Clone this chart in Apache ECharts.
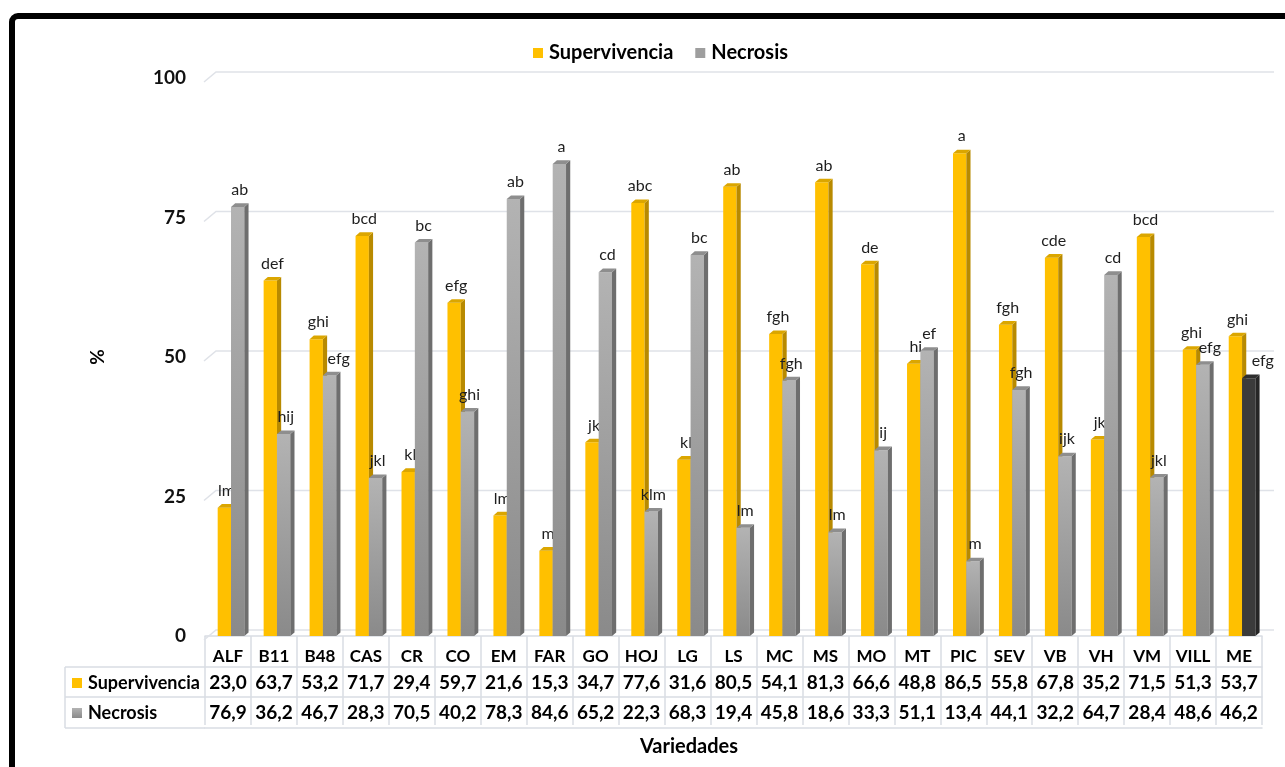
<!DOCTYPE html>
<html>
<head>
<meta charset="utf-8">
<script src="https://cdn.jsdelivr.net/npm/echarts@6/dist/echarts.min.js"></script>
<style>
  html, body { margin: 0; padding: 0; background: #fff; }
  #chart { width: 1285px; height: 767px; }
</style>
</head>
<body>
<div id="chart"></div>
<script>
// Varieties and their survival / necrosis percentages
const categories = ['ALF', 'B11', 'B48', 'CAS', 'CR', 'CO', 'EM', 'FAR', 'GO', 'HOJ', 'LG', 'LS',
  'MC', 'MS', 'MO', 'MT', 'PIC', 'SEV', 'VB', 'VH', 'VM', 'VILL', 'ME'];
const supervivencia = [23.0, 63.7, 53.2, 71.7, 29.4, 59.7, 21.6, 15.3, 34.7, 77.6, 31.6, 80.5,
  54.1, 81.3, 66.6, 48.8, 86.5, 55.8, 67.8, 35.2, 71.5, 51.3, 53.7];
const necrosis = [76.9, 36.2, 46.7, 28.3, 70.5, 40.2, 78.3, 84.6, 65.2, 22.3, 68.3, 19.4,
  45.8, 18.6, 33.3, 51.1, 13.4, 44.1, 32.2, 64.7, 28.4, 48.6, 46.2];
// Significance groups (letters) shown above each bar
const letrasSup = ['lm', 'def', 'ghi', 'bcd', 'kl', 'efg', 'lm', 'm', 'jk', 'abc', 'kl', 'ab',
  'fgh', 'ab', 'de', 'hi', 'a', 'fgh', 'cde', 'jk', 'bcd', 'ghi', 'ghi'];
const letrasNec = ['ab', 'hij', 'efg', 'jkl', 'bc', 'ghi', 'ab', 'a', 'cd', 'klm', 'bc', 'lm',
  'fgh', 'lm', 'ij', 'ef', 'm', 'fgh', 'ijk', 'cd', 'jkl', 'efg', 'efg'];
const yTicks = [0, 25, 50, 75, 100];

// styling
const FONT = 'Lato, "Open Sans", sans-serif';
const TABLE_LINE = '#d9dde3';
const darkNecrosis = ['ME'];                 // necrosis bar drawn in dark grey
const letterNudge = { B48: 7, VILL: 5, ME: 12 }; // horizontal shift of necrosis letters
const DEPTH_X = 4.2, DEPTH_Y = 3.6;

const fmt = v => v.toFixed(1).replace('.', ',');

const palette = {
  sup: {
    front: '#ffc000', side: '#b88a00', top: '#dba600'
  },
  nec: {
    front: new echarts.graphic.LinearGradient(0, 0, 0, 1, [
      { offset: 0, color: '#b3b3b3' }, { offset: 1, color: '#8a8a8a' }]),
    side: '#6e6e6e', top: '#8e8e8e'
  },
  necDark: { front: '#3b3b3b', side: '#262626', top: '#2e2e2e' }
};

function makeBarRenderer(isNec) {
  return function (params, api) {
    const i = api.value(0);
    const v = api.value(1);
    const top = api.coord([i, v]);
    const base = api.coord([i, 0]);
    const bw = api.size([1, 0])[0];
    const w = bw * 0.29;
    const x0 = top[0] - 0.224 * bw + (isNec ? w : 0);
    const yt = top[1], yb = base[1];
    const cat = categories[i];
    const pal = isNec ? (darkNecrosis.includes(cat) ? palette.necDark : palette.nec) : palette.sup;
    const letter = isNec ? letrasNec[i] : letrasSup[i];
    const nudge = isNec ? (letterNudge[cat] || 0) : 0;
    return {
      type: 'group',
      children: [
        { type: 'rect', shape: { x: x0, y: yt, width: w, height: yb - yt }, style: { fill: pal.front } },
        { type: 'polygon', shape: { points: [[x0 + w, yt], [x0 + w + DEPTH_X, yt - DEPTH_Y], [x0 + w + DEPTH_X, yb - DEPTH_Y], [x0 + w, yb]] }, style: { fill: pal.side } },
        { type: 'polygon', shape: { points: [[x0, yt], [x0 + DEPTH_X, yt - DEPTH_Y], [x0 + w + DEPTH_X, yt - DEPTH_Y], [x0 + w, yt]] }, style: { fill: pal.top } },
        { type: 'text', style: { text: letter, x: x0 + w / 2 + DEPTH_X / 2 + nudge, y: yt - 17, align: 'center', verticalAlign: 'middle', fill: '#1e1e1e', font: '16px ' + FONT } }
      ]
    };
  };
}

// back-wall gridlines with the slanted floor/wall edge on the left
function gridRenderer(params, api) {
  const v = api.value(0);
  const y = api.coord([0, v])[1];
  const cs = params.coordSys;
  return {
    type: 'polyline',
    shape: { points: [[cs.x - 1, y + 4], [cs.x + 11, y - 6], [cs.x + cs.width + 12, y - 6]] },
    style: { stroke: '#dfe2e8', lineWidth: 1.5, fill: 'none' },
    silent: true
  };
}

const chart = echarts.init(document.getElementById('chart'));

const tableAxis = (data, offset, margin, extra) => Object.assign({
  type: 'category',
  data: data,
  position: 'bottom',
  offset: offset,
  gridIndex: 0,
  axisLine: { show: true, lineStyle: { color: TABLE_LINE, width: 1.5 } },
  axisTick: { show: false },
  axisLabel: { interval: 0, margin: margin, color: '#000', fontWeight: 'bold', fontSize: 19, fontFamily: FONT, lineHeight: 18 },
  splitLine: { show: false }
}, extra || {});

chart.setOption({
  animation: false,
  backgroundColor: '#fff',
  textStyle: { fontFamily: FONT },
  grid: { left: 205, right: 23, top: 78, bottom: 131, containLabel: false },
  legend: {
    left: 528, top: 38,
    itemWidth: 10, itemHeight: 10, itemGap: 22,
    icon: 'rect',
    textStyle: { fontSize: 20, fontWeight: 'bold', color: '#000', fontFamily: FONT, padding: [0, 0, 0, 1] },
    data: ['Supervivencia', 'Necrosis']
  },
  xAxis: [
    tableAxis(categories, 3, 9, {
      axisTick: { show: true, interval: 0, length: 89, lineStyle: { color: TABLE_LINE, width: 1.5 } },
      axisLabel: { interval: 0, margin: 9, color: '#000', fontWeight: 'bold', fontSize: 17, fontFamily: FONT, lineHeight: 18 }
    }),
    tableAxis(supervivencia.map(fmt), 31, 7),
    tableAxis(necrosis.map(fmt), 61, 7),
    tableAxis(categories, 92, 0, { axisLabel: { show: false } })
  ],
  yAxis: {
    type: 'value',
    min: 0, max: 100, interval: 25,
    name: '%',
    nameLocation: 'middle',
    nameGap: 98,
    nameRotate: 90,
    nameTextStyle: { fontSize: 19, fontWeight: 'bold', color: '#000', fontFamily: FONT },
    axisLine: { show: false },
    axisTick: { show: false },
    splitLine: { show: false },
    axisLabel: { margin: 19, fontSize: 19, fontWeight: 'bold', color: '#111', fontFamily: FONT, padding: [4, 0, 0, 0] }
  },
  series: [
    {
      name: 'grid', type: 'custom', renderItem: gridRenderer, silent: true, z: 1,
      data: yTicks.map(v => [v]), encode: { y: 0 }, legendHoverLink: false
    },
    {
      name: 'Supervivencia', type: 'custom', renderItem: makeBarRenderer(false), z: 3,
      itemStyle: { color: '#ffc000' },
      data: supervivencia.map((v, i) => [i, v]), encode: { x: 0, y: 1 }
    },
    {
      name: 'Necrosis', type: 'custom', renderItem: makeBarRenderer(true), z: 4,
      itemStyle: { color: '#9e9e9e' },
      data: necrosis.map((v, i) => [i, v]), encode: { x: 0, y: 1 }
    }
  ],
  graphic: [
    // outer frame
    { type: 'rect', shape: { x: 12, y: 16, width: 1400, height: 900, r: 6 }, style: { fill: 'none', stroke: '#000', lineWidth: 6 }, z: 10 },
    // row header cells of the data table
    { type: 'line', shape: { x1: 65, y1: 667, x2: 205, y2: 667 }, style: { stroke: TABLE_LINE, lineWidth: 1.5 } },
    { type: 'line', shape: { x1: 65, y1: 697, x2: 205, y2: 697 }, style: { stroke: TABLE_LINE, lineWidth: 1.5 } },
    { type: 'line', shape: { x1: 65, y1: 728, x2: 205, y2: 728 }, style: { stroke: TABLE_LINE, lineWidth: 1.5 } },
    { type: 'line', shape: { x1: 65, y1: 667, x2: 65, y2: 728 }, style: { stroke: TABLE_LINE, lineWidth: 1.5 } },
    { type: 'rect', shape: { x: 72, y: 678, width: 10, height: 10 }, style: { fill: '#ffc000' } },
    { type: 'rect', shape: { x: 72, y: 708, width: 10, height: 10 }, style: { fill: new echarts.graphic.LinearGradient(0, 0, 0, 1, [{ offset: 0, color: '#b3b3b3' }, { offset: 1, color: '#8a8a8a' }]) } },
    { type: 'text', style: { text: 'Supervivencia', x: 88, y: 683, verticalAlign: 'middle', font: 'bold 18px ' + FONT, fill: '#000' } },
    { type: 'text', style: { text: 'Necrosis', x: 88, y: 713, verticalAlign: 'middle', font: 'bold 18px ' + FONT, fill: '#000' } },
    // category axis title
    { type: 'text', style: { text: 'Variedades', x: 689, y: 747, align: 'center', verticalAlign: 'middle', font: 'bold 20px ' + FONT, fill: '#000' } }
  ]
});
</script>
</body>
</html>
